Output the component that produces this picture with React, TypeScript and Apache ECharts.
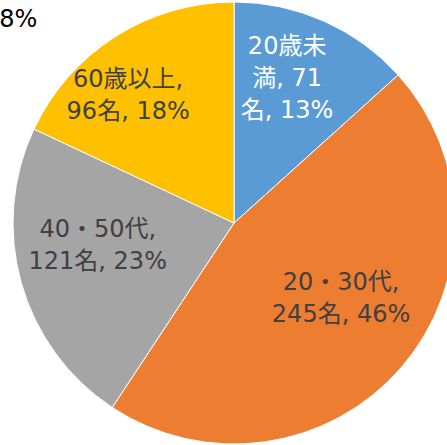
import React, { useEffect, useRef } from "react";
import * as echarts from "echarts";

const categories = ["20歳未満", "20・30代", "40・50代", "60歳以上"];
const values = [71, 245, 121, 96];
const colors = ["#5B9BD5", "#ED7D31", "#A5A5A5", "#FFC000"];
const labelColors = ["#FFFFFF", "#404040", "#404040", "#404040"];
// character positions where each label line breaks
const labelBreaks = [[4, 9], [7], [7], [7]];
const labelOffsets = [[7, -41], [21, 1], [-27, -9], [-45, -32]];
const FONT = "'DejaVu Sans', 'Noto Sans CJK JP', sans-serif";

export default function App() {
  const ref = useRef<HTMLDivElement>(null);
  useEffect(() => {
    if (!ref.current) return;
    const chart = echarts.init(ref.current, null, { renderer: "svg" });
    const total = values.reduce((a, b) => a + b, 0);
    const data = categories.map((name, i) => {
      const pct = Math.round((values[i] / total) * 100);
      const full = `${name}, ${values[i]}名, ${pct}%`;
      const cuts = [0, ...labelBreaks[i], full.length];
      const lines: string[] = [];
      for (let k = 0; k < cuts.length - 1; k++) lines.push(full.slice(cuts[k], cuts[k + 1]).trim());
      return {
        name,
        value: values[i],
        itemStyle: { color: colors[i] },
        label: {
          formatter: lines.join("\n"),
          color: labelColors[i],
          offset: labelOffsets[i],
        },
      };
    });
    chart.setOption({
      animation: false,
      graphic: [
        {
          type: "text",
          left: -16,
          top: 7,
          style: {
            text: "18%",
            fontSize: 24,
            fontFamily: FONT,
            fill: "#000000",
          },
        },
      ],
      series: [
        {
          type: "pie",
          center: [234, 223],
          radius: [0, 221],
          startAngle: 90,
          clockwise: true,
          avoidLabelOverlap: false,
          itemStyle: { borderColor: "#ffffff", borderWidth: 1 },
          label: {
            show: true,
            position: "inside",
            fontSize: 24,
            lineHeight: 32,
            fontFamily: FONT,
            align: "center",
          },
          labelLine: { show: false },
          emphasis: { disabled: true },
          data,
        },
      ],
    });
    return () => chart.dispose();
  }, []);
  return (
    <div
      ref={ref}
      style={{ position: "fixed", left: 0, top: 0, width: 447, height: 445, background: "#fff" }}
    />
  );
}
